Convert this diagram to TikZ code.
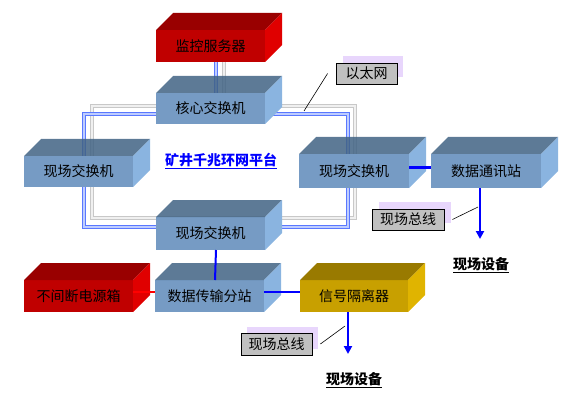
\documentclass[tikz,border=0pt]{standalone}
\usepackage{fontspec}
\setmainfont{Noto Sans CJK SC}
\usetikzlibrary{arrows.meta,backgrounds}
\definecolor{bF}{RGB}{118,155,196}
\definecolor{bT}{RGB}{65,99,132}
\definecolor{bS}{RGB}{138,180,224}
\definecolor{rF}{RGB}{192,0,0}
\definecolor{rT}{RGB}{153,0,0}
\definecolor{rS}{RGB}{224,0,0}
\definecolor{gF}{RGB}{200,160,0}
\definecolor{gT}{RGB}{153,122,0}
\definecolor{gS}{RGB}{224,180,0}
\definecolor{ringB}{RGB}{90,120,255}
\definecolor{ringBi}{RGB}{190,205,255}
\definecolor{ringG}{RGB}{200,200,200}
\definecolor{ringGi}{RGB}{240,240,240}
\definecolor{lblgray}{RGB}{192,192,192}
\definecolor{lav}{RGB}{232,214,252}
\definecolor{linkB}{RGB}{0,0,255}
\tikzset{
  boxfront/.style={rectangle, inner sep=0pt, outer sep=0pt, font=\fontsize{14pt}{16pt}\selectfont},
  bFtop/.style={fill=bT, fill opacity=.85},
  rFtop/.style={fill=rT},
  gFtop/.style={fill=gT},
  bring/.style={draw=ringB, double=ringBi, double distance=1.3pt, line width=0.9pt},
  gring/.style={draw=ringG, double=ringGi, double distance=1.3pt, line width=0.9pt},
  link/.style={draw=linkB, line width=2pt},
  rlink/.style={draw=red, line width=2pt},
  arr/.style={draw=linkB, line width=2pt, -{Triangle[width=8pt,length=8pt]}},
  callout/.style={draw=black, fill=lblgray, line width=0.8pt, inner sep=0pt, font=\fontsize{14pt}{16pt}\selectfont},
  leader/.style={draw=black, line width=0.6pt},
  devtxt/.style={font=\fontsize{14pt}{16pt}\selectfont\bfseries, inner sep=1pt},
}
% name, x, y, w, h, text, colour prefix
\newcommand\mkbox[7]{%
  \node[boxfront, fill=#7F, minimum width=#4pt, minimum height=#5pt, anchor=north west] (#1) at (#2,#3) {#6};
  \fill[#7Ftop] (#1.north west) -- ++(17,-17) -- ++(#4,0) -- (#1.north east) -- cycle;
  \fill[#7S] (#1.north east) -- ++(17,-17) -- ++(0,#5) -- (#1.south east) -- cycle;
}
\begin{document}
\begin{tikzpicture}[x=1pt,y=-1pt]
\useasboundingbox (0,0) rectangle (564,406);
% ring corners
\coordinate (g1) at (92,106);
\coordinate (g2) at (355,218);
\coordinate (b1) at (84,114);
\coordinate (b2) at (348,227);
\draw[gring] (g1) rectangle (g2);
\draw[bring] (b1) rectangle (b2);
\coordinate (sg1) at (224,60);
\coordinate (sg2) at (224,106);
\coordinate (sb1) at (216,60);
\coordinate (sb2) at (216,114);
\draw[gring] (sg1) -- (sg2);
\draw[bring] (sb1) -- (sb2);
% boxes
\mkbox{srv}{156}{30}{109}{32}{监控服务器}{r}
\mkbox{core}{156}{93}{109}{31}{核心交换机}{b}
\mkbox{fl}{24}{156}{109}{31}{现场交换机}{b}
\mkbox{fr}{299}{154}{110}{34}{现场交换机}{b}
\mkbox{dc}{431}{154}{110}{34}{数据通讯站}{b}
\mkbox{fb}{156}{217}{109}{33}{现场交换机}{b}
\mkbox{ups}{24}{280}{109}{32}{不间断电源箱}{r}
\mkbox{dt}{155}{280}{109}{32}{数据传输分站}{b}
\mkbox{iso}{300}{280}{108}{32}{信号隔离器}{g}
% title
\node[font=\fontsize{14pt}{16pt}\selectfont\bfseries, text=linkB] (title) at (221,161) {\underline{矿井千兆环网平台}};
% links
\draw[link] ([yshift=3.5pt]fr.east) -- ([yshift=3.5pt]dc.west);
\draw[link] ([xshift=5.5pt]fb.south) -- ([xshift=5.5pt]dt.north);
\draw[link] ([yshift=4pt]dt.east) -- ([yshift=4pt]iso.west);
\draw[rlink] ([yshift=4pt]ups.east) -- ([yshift=4pt]dt.west);
% arrows
\coordinate (dev1) at (480,239);
\coordinate (dev2) at (348,354);
\draw[arr] (dc.south -| dev1) -- (dev1);
\draw[arr] (iso.south -| dev2) -- (dev2);
\node[devtxt] (devA) at (481,265) {\underline{现场设备}};
\node[devtxt] (devB) at (354,380) {\underline{现场设备}};
% callouts
\node[callout, minimum width=61pt, minimum height=21pt] (eth) at (366.5,73.5) {以太网};
\node[callout, minimum width=72pt, minimum height=21pt] (bus1) at (408,219.5) {现场总线};
\node[callout, minimum width=71pt, minimum height=22pt] (bus2) at (276.5,344) {现场总线};
\begin{scope}[on background layer]
  \fill[lav] ([xshift=7pt,yshift=7pt]eth.south west) rectangle ([xshift=6pt,yshift=7pt]eth.north east);
  \fill[lav] ([xshift=7pt,yshift=7pt]bus1.south west) rectangle ([xshift=7pt,yshift=7pt]bus1.north east);
  \fill[lav] ([xshift=6pt,yshift=6pt]bus2.south west) rectangle ([xshift=6pt,yshift=6pt]bus2.north east);
\end{scope}
\coordinate (ethpt) at (304,111);
\coordinate (bus1pt) at (478,207);
\coordinate (bus2pt) at (345,326);
\draw[leader] ([xshift=-8pt]eth.west) -- (ethpt);
\draw[leader] ([xshift=8pt]bus1.east) -- (bus1pt);
\draw[leader] ([xshift=8pt]bus2.east) -- (bus2pt);
\end{tikzpicture}
\end{document}
